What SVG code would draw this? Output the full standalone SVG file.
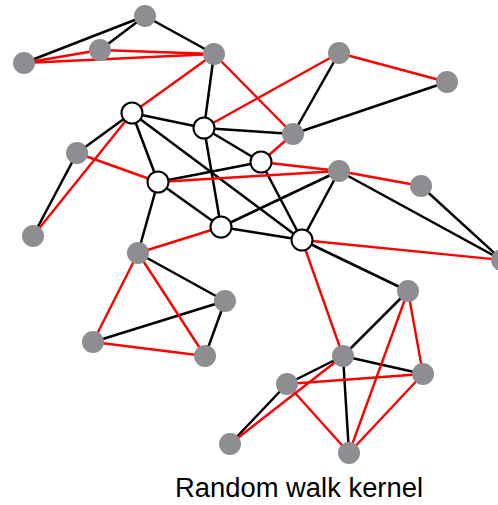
<svg xmlns="http://www.w3.org/2000/svg" width="498" height="505" viewBox="0 0 498 505">
  <style>
    .k { stroke: #000000; stroke-width: 2.5; stroke-linecap: round; }
    .r { stroke: #ff0000; stroke-width: 2.4; stroke-linecap: round; }
    .g { fill: #8e8e92; stroke: none; }
    .w { fill: #ffffff; stroke: #000000; stroke-width: 2; }
    .t { font-family: "Liberation Sans", Arial, sans-serif; font-size: 27px; fill: #000000; }
  </style>
  <rect width="498" height="505" fill="#ffffff"/>

  <g id="edges">
    <!-- black edges -->
    <line class="k" x1="145" y1="16" x2="24" y2="63"/>
    <line class="k" x1="145" y1="16" x2="100" y2="50"/>
    <line class="k" x1="145" y1="16" x2="214" y2="54"/>
    <line class="k" x1="214" y1="54" x2="204" y2="128"/>
    <line class="k" x1="132" y1="113" x2="204" y2="128"/>
    <line class="k" x1="132" y1="113" x2="77" y2="153"/>
    <line class="k" x1="132" y1="113" x2="158" y2="182"/>
    <line class="k" x1="132" y1="113" x2="302" y2="240"/>
    <line class="k" x1="204" y1="128" x2="293" y2="134"/>
    <line class="k" x1="204" y1="128" x2="261" y2="162"/>
    <line class="k" x1="204" y1="128" x2="221" y2="227"/>
    <line class="k" x1="158" y1="182" x2="221" y2="227"/>
    <line class="k" x1="158" y1="182" x2="261" y2="162"/>
    <line class="k" x1="158" y1="182" x2="138" y2="253"/>
    <line class="k" x1="77" y1="153" x2="33" y2="236"/>
    <line class="k" x1="221" y1="227" x2="302" y2="240"/>
    <line class="k" x1="221" y1="227" x2="339" y2="171"/>
    <line class="k" x1="261" y1="162" x2="302" y2="240"/>
    <line class="k" x1="339" y1="171" x2="302" y2="240"/>
    <line class="k" x1="339" y1="171" x2="502" y2="260"/>
    <line class="k" x1="421" y1="186" x2="502" y2="260"/>
    <line class="k" x1="293" y1="134" x2="339" y2="53"/>
    <line class="k" x1="293" y1="134" x2="447" y2="82"/>
    <line class="k" x1="302" y1="240" x2="408" y2="291"/>
    <line class="k" x1="138" y1="253" x2="225" y2="301"/>
    <line class="k" x1="225" y1="301" x2="93" y2="342"/>
    <line class="k" x1="225" y1="301" x2="205" y2="356"/>
    <line class="k" x1="408" y1="291" x2="343" y2="356"/>
    <line class="k" x1="343" y1="356" x2="287" y2="384"/>
    <line class="k" x1="343" y1="356" x2="423" y2="374"/>
    <line class="k" x1="343" y1="356" x2="349" y2="453"/>
    <line class="k" x1="287" y1="384" x2="230" y2="444"/>

    <!-- red edges -->
    <line class="r" x1="24" y1="63" x2="100" y2="50"/>
    <line class="r" x1="24" y1="63" x2="214" y2="54"/>
    <line class="r" x1="100" y1="50" x2="214" y2="54"/>
    <line class="r" x1="214" y1="54" x2="132" y2="113"/>
    <line class="r" x1="214" y1="54" x2="293" y2="134"/>
    <line class="r" x1="339" y1="53" x2="204" y2="128"/>
    <line class="r" x1="339" y1="53" x2="447" y2="82"/>
    <line class="r" x1="293" y1="134" x2="261" y2="162"/>
    <line class="r" x1="261" y1="162" x2="339" y2="171"/>
    <line class="r" x1="77" y1="153" x2="158" y2="182"/>
    <line class="r" x1="132" y1="113" x2="33" y2="236"/>
    <line class="r" x1="158" y1="182" x2="339" y2="171"/>
    <line class="r" x1="339" y1="171" x2="421" y2="186"/>
    <line class="r" x1="302" y1="240" x2="502" y2="260"/>
    <line class="r" x1="221" y1="227" x2="138" y2="253"/>
    <line class="r" x1="138" y1="253" x2="93" y2="342"/>
    <line class="r" x1="138" y1="253" x2="205" y2="356"/>
    <line class="r" x1="93" y1="342" x2="205" y2="356"/>
    <line class="r" x1="302" y1="240" x2="343" y2="356"/>
    <line class="r" x1="408" y1="291" x2="349" y2="453"/>
    <line class="r" x1="408" y1="291" x2="423" y2="374"/>
    <line class="r" x1="343" y1="356" x2="230" y2="444"/>
    <line class="r" x1="287" y1="384" x2="423" y2="374"/>
    <line class="r" x1="287" y1="384" x2="349" y2="453"/>
    <line class="r" x1="423" y1="374" x2="349" y2="453"/>
  </g>

  <!-- gray nodes -->
  <g id="nA"><circle class="g" cx="145" cy="16" r="11"/></g>
  <g id="nB"><circle class="g" cx="100" cy="50" r="11"/></g>
  <g id="nC"><circle class="g" cx="24" cy="63" r="11"/></g>
  <g id="nD"><circle class="g" cx="214" cy="54" r="11"/></g>
  <g id="nE"><circle class="g" cx="339" cy="53" r="11"/></g>
  <g id="nF"><circle class="g" cx="447" cy="82" r="11"/></g>
  <g id="nH"><circle class="g" cx="293" cy="134" r="11"/></g>
  <g id="nG1"><circle class="g" cx="77" cy="153" r="11"/></g>
  <g id="nI"><circle class="g" cx="339" cy="171" r="11"/></g>
  <g id="nJ"><circle class="g" cx="421" cy="186" r="11"/></g>
  <g id="nG2"><circle class="g" cx="33" cy="236" r="11"/></g>
  <g id="nK"><circle class="g" cx="502" cy="260" r="11"/></g>
  <g id="nG3"><circle class="g" cx="138" cy="253" r="11"/></g>
  <g id="nL"><circle class="g" cx="225" cy="301" r="11"/></g>
  <g id="nM"><circle class="g" cx="93" cy="342" r="11"/></g>
  <g id="nN"><circle class="g" cx="205" cy="356" r="11"/></g>
  <g id="nP"><circle class="g" cx="408" cy="291" r="11"/></g>
  <g id="nQ"><circle class="g" cx="343" cy="356" r="11"/></g>
  <g id="nR"><circle class="g" cx="423" cy="374" r="11"/></g>
  <g id="nS"><circle class="g" cx="287" cy="384" r="11"/></g>
  <g id="nO"><circle class="g" cx="230" cy="444" r="11"/></g>
  <g id="nT"><circle class="g" cx="349" cy="453" r="11"/></g>

  <!-- white nodes -->
  <g id="w1"><circle class="w" cx="132" cy="113" r="10.5"/></g>
  <g id="w2"><circle class="w" cx="204" cy="128" r="10.5"/></g>
  <g id="w3"><circle class="w" cx="158" cy="182" r="10.5"/></g>
  <g id="w4"><circle class="w" cx="221" cy="227" r="10.5"/></g>
  <g id="w5"><circle class="w" cx="261" cy="162" r="10.5"/></g>
  <g id="w6"><circle class="w" cx="302" cy="240" r="10.5"/></g>

  <text class="t" x="175" y="497" textLength="248" lengthAdjust="spacingAndGlyphs">Random walk kernel</text>
</svg>
